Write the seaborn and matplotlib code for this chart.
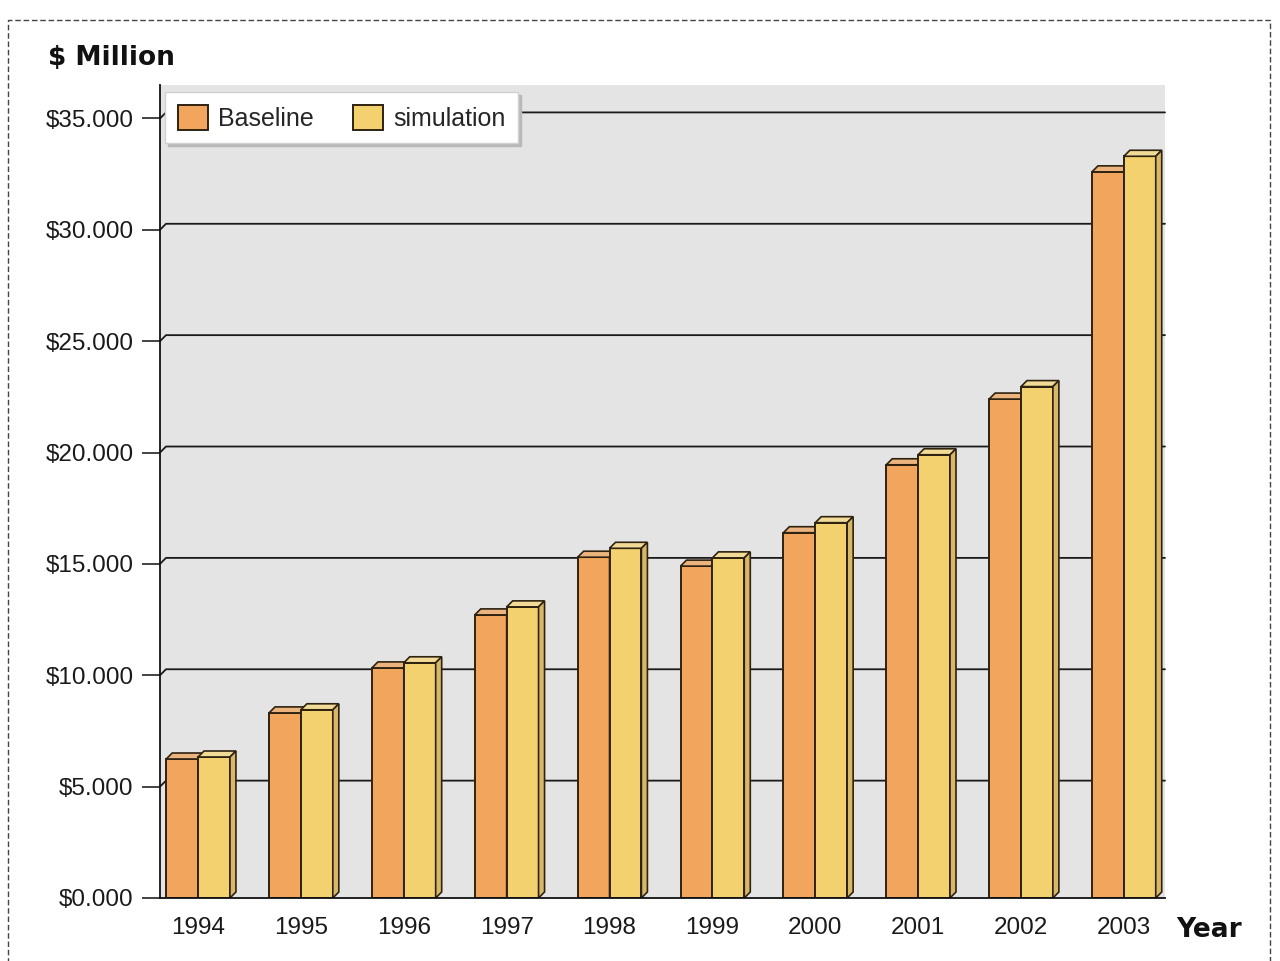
import numpy as np
import pandas as pd
import matplotlib
matplotlib.use("Agg")
import matplotlib.pyplot as plt
import seaborn as sns
from matplotlib.patches import Polygon, Rectangle, Patch

# ---- data ($ million) ----
years = ["1994", "1995", "1996", "1997", "1998", "1999", "2000", "2001", "2002", "2003"]
baseline = [6240, 8310, 10330, 12710, 15300, 14900, 16400, 19450, 22400, 32600]
simulation = [6330, 8450, 10560, 13070, 15700, 15270, 16850, 19900, 22960, 33300]
series = ["Baseline", "simulation"]
y_ticks = [0, 5000, 10000, 15000, 20000, 25000, 30000, 35000]
y_tick_labels = ["\\$%d.000" % (v // 1000) for v in y_ticks]

# ---- style ----
front_colors = ["#F2A55C", "#F3D16F"]
top_colors = ["#EBB47F", "#F1DB96"]
side_colors = ["#D98E4A", "#D8B868"]
edge_color = "#2e2210"
DEPTH_PX = 6

sns.set_theme(style="white")
plt.rcParams["font.family"] = ["Liberation Sans", "DejaVu Sans"]

df = pd.DataFrame({
    "Year": years * 2,
    "Value": baseline + simulation,
    "Scenario": [series[0]] * len(years) + [series[1]] * len(years),
})

fig = plt.figure(figsize=(12.8, 9.61), dpi=100)
fig.patch.set_facecolor("white")
ax = fig.add_axes([160 / 1280, 1 - 898 / 961, (1165 - 160) / 1280, (898 - 85) / 961])
ax.set_facecolor("#e4e4e4")

sns.barplot(data=df, x="Year", y="Value", hue="Scenario", hue_order=series,
            palette=front_colors, width=0.62, saturation=1, errorbar=None,
            edgecolor=edge_color, linewidth=1.4, legend=False, ax=ax)

ax.set_xlim(-0.37, 9.4)
ax.set_ylim(0, 36500)

# depth of the pseudo-3D faces, converted from pixels to data units
inv = ax.transData.inverted()
p0 = ax.transData.transform((0, 0))
ddx, ddy = inv.transform(p0 + DEPTH_PX) - inv.transform(p0)

# back-plane gridlines with a short slanted connector at the axis
x_lo, x_hi = ax.get_xlim()
for v in y_ticks[1:]:
    ax.plot([x_lo, x_lo + ddx, x_hi], [v, v + ddy, v + ddy],
            color="#1a1a1a", lw=1.3, zorder=1, clip_on=False)

# bars: front face from seaborn, plus top and side faces
for idx, container in enumerate(ax.containers):
    z = 3 + idx
    for bar in container:
        x0, w, h = bar.get_x(), bar.get_width(), bar.get_height()
        bar.set_zorder(z)
        top = Polygon([(x0, h), (x0 + w, h), (x0 + w + ddx, h + ddy), (x0 + ddx, h + ddy)],
                      closed=True, facecolor=top_colors[idx], edgecolor=edge_color,
                      lw=1.2, zorder=z + 0.5)
        side = Polygon([(x0 + w, 0), (x0 + w + ddx, ddy), (x0 + w + ddx, h + ddy), (x0 + w, h)],
                       closed=True, facecolor=side_colors[idx], edgecolor=edge_color,
                       lw=1.2, zorder=z + 0.5)
        ax.add_patch(top)
        ax.add_patch(side)

# axes
ax.set_yticks(y_ticks)
ax.set_yticklabels(y_tick_labels)
ax.set_xlabel("")
ax.set_ylabel("")
for s in ["top", "right"]:
    ax.spines[s].set_visible(False)
for s in ["left", "bottom"]:
    ax.spines[s].set_color("#111111")
    ax.spines[s].set_linewidth(1.3)
    ax.spines[s].set_zorder(6)
ax.tick_params(axis="y", length=13, width=1.1, color="#111111", pad=6,
               labelsize=17.5, labelcolor="#1a1a1a", left=True)
ax.tick_params(axis="x", length=0, pad=14, labelsize=17.5, labelcolor="#1a1a1a")

# titles
fig.text(48 / 1280, 1 - 58 / 961, "$ Million", fontsize=19, fontweight="bold",
         family="DejaVu Sans", color="#111111", va="center", ha="left", parse_math=False)
fig.text(1176 / 1280, 1 - 930 / 961, "Year", fontsize=19, fontweight="bold",
         family="DejaVu Sans", color="#111111", va="center", ha="left")

# legend
handles = [Patch(facecolor=front_colors[i], edgecolor=edge_color, lw=1.4, label=series[i])
           for i in range(len(series))]
fig.legend(handles=handles, loc="upper left", bbox_to_anchor=(165 / 1280, 1 - 92 / 961),
           bbox_transform=fig.transFigure, ncol=2, frameon=True, fancybox=False,
           facecolor="white", edgecolor="#d0d0d0", framealpha=1,
           shadow={"color": "#b9b9b9", "alpha": 1}, fontsize=18,
           handlelength=1.2, handleheight=1.2, handletextpad=0.4,
           columnspacing=1.6, borderpad=0.5, borderaxespad=0)

# dashed outer frame
fig.add_artist(Rectangle((8 / 1280, -0.01), 1262 / 1280, 1 - 20 / 961 + 0.01,
                         transform=fig.transFigure, fill=False, ls=(0, (4, 2)),
                         lw=1.0, ec="#444444"))

fig.savefig("out.png", dpi=100, facecolor="white")
